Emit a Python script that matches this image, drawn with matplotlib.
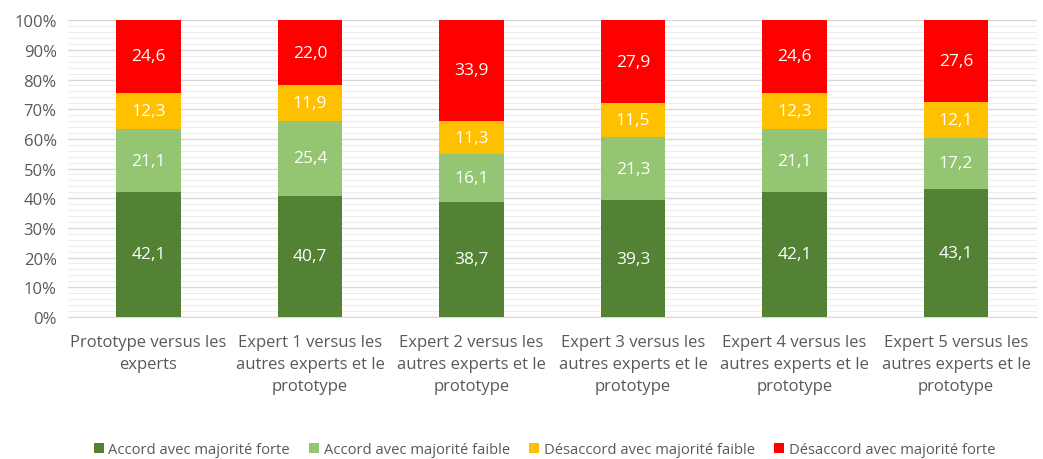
import numpy as np
import matplotlib as mpl

mpl.use('Agg')

import matplotlib.pyplot as plt
from matplotlib.ticker import MultipleLocator, FuncFormatter

categories = [
    'Prototype versus les\nexperts',
    'Expert 1 versus les\nautres experts et le\nprototype',
    'Expert 2 versus les\nautres experts et le\nprototype',
    'Expert 3 versus les\nautres experts et le\nprototype',
    'Expert 4 versus les\nautres experts et le\nprototype',
    'Expert 5 versus les\nautres experts et le\nprototype',
]
accord_forte = [42.1, 40.7, 38.7, 39.3, 42.1, 43.1]
accord_faible = [21.1, 25.4, 16.1, 21.3, 21.1, 17.2]
desaccord_faible = [12.3, 11.9, 11.3, 11.5, 12.3, 12.1]
desaccord_forte = [24.6, 22.0, 33.9, 27.9, 24.6, 27.6]

series = [
    ('Accord avec majorité forte', accord_forte, '#548235'),
    ('Accord avec majorité faible', accord_faible, '#93C572'),
    ('Désaccord avec majorité faible', desaccord_faible, '#FFC000'),
    ('Désaccord avec majorité forte', desaccord_forte, '#FF0000'),
]

plt.rcParams['font.family'] = ['Open Sans', 'DejaVu Sans']
grey = '#595959'

fig = plt.figure(figsize=(10.43, 4.6), dpi=100)
ax = fig.add_axes([0.065, 0.309, 0.929, 0.645])

x = np.arange(len(categories))
bottom = np.zeros(len(categories))
handles = []
for name, vals, color in series:
    vals = np.array(vals)
    bars = ax.bar(x, vals, 0.4, bottom=bottom, color=color, label=name,
                  zorder=3)
    handles.append(bars)
    for xi, b, v in zip(x, bottom, vals):
        ax.text(xi, b + v / 2, '{:.1f}'.format(v).replace('.', ','),
                ha='center', va='center', color='white', fontsize=12.5,
                zorder=4)
    bottom += vals

ax.set_xlim(-0.5, len(categories) - 0.5)
ax.set_ylim(0, 100)
ax.yaxis.set_major_locator(MultipleLocator(10))
ax.yaxis.set_minor_locator(MultipleLocator(2))
ax.yaxis.set_major_formatter(FuncFormatter(lambda v, p: '{:.0f}%'.format(v)))
ax.grid(axis='y', which='major', color='#D9D9D9', linewidth=1, zorder=0)
ax.grid(axis='y', which='minor', color='#EDEDED', linewidth=0.8, zorder=0)

for s in ['top', 'right', 'left']:
    ax.spines[s].set_visible(False)
ax.spines['bottom'].set_color('#D9D9D9')

ax.set_xticks(x)
ax.set_xticklabels(categories, fontsize=12, color=grey, linespacing=1.5)
ax.tick_params(axis='x', length=0, pad=12)
ax.tick_params(axis='y', which='both', length=0, labelsize=12,
               labelcolor=grey, pad=8)

fig.legend(handles=handles, loc='center', bbox_to_anchor=(0.522, 0.02),
           ncol=4, frameon=False, fontsize=10.6, labelcolor=grey,
           handlelength=0.7, handleheight=0.7, handletextpad=0.3,
           columnspacing=1.3)

fig.savefig('out.png', dpi=100)
